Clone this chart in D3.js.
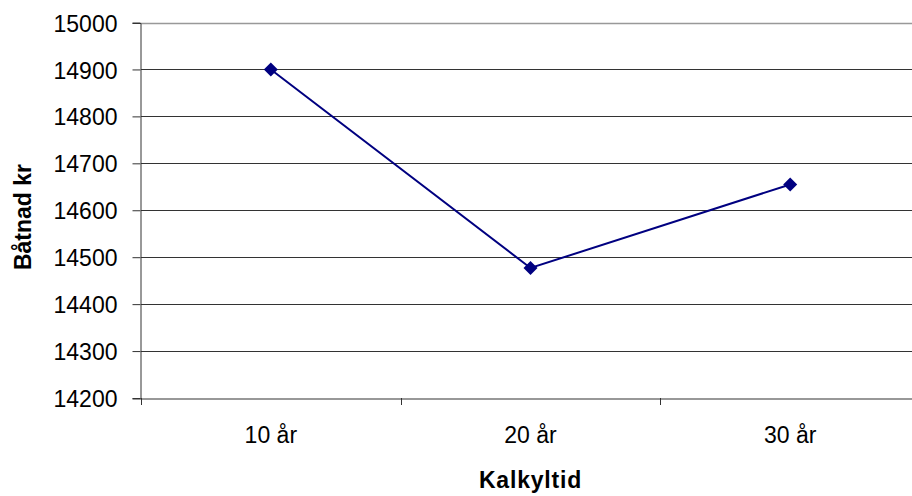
<!DOCTYPE html>
<html>
<head>
<meta charset="utf-8">
<script src="https://cdn.jsdelivr.net/npm/d3@7"></script>
<style>
  body { margin: 0; background: #fff; }
  svg { display: block; font-family: "Liberation Sans", Arial, sans-serif; }
  .tick text { fill: #000; }
</style>
</head>
<body>
<svg id="chart" width="912" height="496"></svg>
<script>
// Chart data
const categories = ["10 år", "20 år", "30 år"];
const values = [14900, 14477, 14655];
const yTicks = [14200, 14300, 14400, 14500, 14600, 14700, 14800, 14900, 15000];

const svg = d3.select("#chart");
const margin = { left: 141, right: -8, top: 22.5, bottom: 98 };
const width = +svg.attr("width"), height = +svg.attr("height");

// scales
const x = d3.scaleBand()
  .domain(categories)
  .range([margin.left, width - margin.right]);
const y = d3.scaleLinear()
  .domain([14200, 15000])
  .range([height - margin.bottom, margin.top]);

// gridlines
svg.append("g")
  .selectAll("line")
  .data(yTicks.slice(1))
  .enter().append("line")
    .attr("x1", margin.left)
    .attr("x2", width)
    .attr("y1", d => Math.round(y(d)) + 0.5)
    .attr("y2", d => Math.round(y(d)) + 0.5)
    .attr("stroke", d => d === 15000 ? "#999" : "#333")
    .attr("stroke-width", d => d === 15000 ? 1.5 : 1);

// y axis
const yAxis = svg.append("g")
  .attr("transform", `translate(${margin.left - 0.5},0.5)`)
  .call(d3.axisLeft(y).tickValues(yTicks).tickFormat(d3.format("d")).tickSize(8).tickPadding(15));
yAxis.selectAll(".tick line").attr("stroke", "#333").attr("transform", "translate(0,-0.5)");
yAxis.select(".domain").attr("stroke", "#333");
yAxis.selectAll(".tick text").style("font-size", "23px").attr("dy", "0.35em");

// x axis
const xAxis = svg.append("g")
  .attr("transform", `translate(0,${Math.round(y(14200)) + 0.5})`)
  .call(d3.axisBottom(x).tickSize(0).tickPadding(28));
xAxis.select(".domain").attr("stroke", "#333").attr("stroke-width", 1.2);
xAxis.selectAll(".tick text").style("font-size", "23px");
// category separator ticks
svg.append("g")
  .selectAll("line")
  .data(categories)
  .enter().append("line")
    .attr("x1", d => Math.round(x(d)) + 0.5)
    .attr("x2", d => Math.round(x(d)) + 0.5)
    .attr("y1", y(14200))
    .attr("y2", y(14200) + 7)
    .attr("stroke", "#333");

// series line
const pts = categories.map((c, i) => [x(c) + x.bandwidth() / 2, y(values[i])]);
svg.append("path")
  .datum(pts)
  .attr("fill", "none")
  .attr("stroke", "#000080")
  .attr("stroke-width", 2)
  .attr("d", d3.line());

// diamond markers
svg.append("g")
  .selectAll("path")
  .data(pts)
  .enter().append("path")
    .attr("transform", d => `translate(${d[0]},${d[1]})`)
    .attr("d", "M0,-7L7,0L0,7L-7,0Z")
    .attr("fill", "#000080");

// axis titles
svg.append("text")
  .attr("x", x(categories[1]) + x.bandwidth() / 2)
  .attr("y", 488)
  .attr("text-anchor", "middle")
  .attr("font-size", 23)
  .attr("font-weight", "bold")
  .attr("letter-spacing", 0.8)
  .text("Kalkyltid");

svg.append("text")
  .attr("transform", `translate(31,217) rotate(-90)`)
  .attr("text-anchor", "middle")
  .attr("font-size", 23)
  .attr("font-weight", "bold")
  .text("Båtnad kr");
</script>
</body>
</html>
